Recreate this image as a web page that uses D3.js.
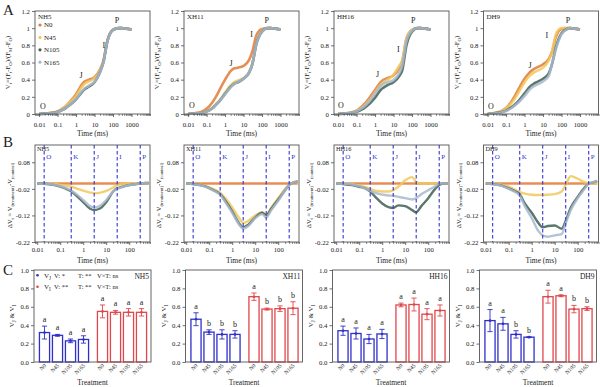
<!DOCTYPE html>
<html>
<head>
<meta charset="utf-8">
<script src="https://cdn.jsdelivr.net/npm/d3@7"></script>
<style>
  body { margin: 0; background: #fff; }
  svg { font-family: "Liberation Serif", "Times New Roman", serif; }
</style>
</head>
<body>
<svg id="fig" width="600" height="387"></svg>
<script>
// ---- data ----
const cultivars = ["NH5", "XH11", "HH16", "DH9"];
const treatments = ["N0", "N45", "N105", "N165"];
const seriesColors = ["#e07b39", "#f0c85a", "#3f5f52", "#a7b9cf"];

// A: relative variable fluorescence Vt
const timeA = [0.01, 0.02, 0.05, 0.1, 0.2, 0.3, 0.5, 1, 2, 3, 5, 10, 20, 30, 50, 100, 200, 300, 500, 1000];
const vtNH5 = [
  [0, 0.005, 0.015, 0.03, 0.07, 0.10, 0.15, 0.23, 0.34, 0.38, 0.40, 0.43, 0.52, 0.62, 0.86, 0.98, 1.0, 1.0, 0.995, 0.985],
  [0, 0.005, 0.014, 0.028, 0.065, 0.095, 0.14, 0.21, 0.31, 0.355, 0.38, 0.415, 0.51, 0.61, 0.86, 0.98, 1.0, 1.0, 0.995, 0.985],
  [0, 0.004, 0.012, 0.022, 0.05, 0.075, 0.11, 0.17, 0.25, 0.29, 0.32, 0.37, 0.49, 0.60, 0.85, 0.98, 1.0, 1.0, 0.995, 0.985],
  [0, 0.004, 0.012, 0.023, 0.052, 0.078, 0.115, 0.175, 0.26, 0.30, 0.33, 0.375, 0.49, 0.60, 0.85, 0.98, 1.0, 1.0, 0.995, 0.985]
];
const vtXH11 = [
  [0, 0.008, 0.025, 0.06, 0.13, 0.19, 0.28, 0.40, 0.50, 0.53, 0.54, 0.56, 0.63, 0.73, 0.92, 0.99, 1.0, 1.0, 0.995, 0.985],
  [0, 0.005, 0.013, 0.03, 0.07, 0.11, 0.16, 0.25, 0.335, 0.37, 0.39, 0.42, 0.49, 0.59, 0.83, 0.97, 1.0, 1.0, 0.995, 0.985],
  [0, 0.005, 0.012, 0.028, 0.065, 0.10, 0.15, 0.235, 0.315, 0.35, 0.37, 0.41, 0.48, 0.58, 0.82, 0.96, 1.0, 1.0, 0.995, 0.985],
  [0, 0.005, 0.012, 0.028, 0.065, 0.10, 0.15, 0.23, 0.31, 0.345, 0.375, 0.41, 0.485, 0.585, 0.82, 0.96, 1.0, 1.0, 0.995, 0.985]
];
const vtHH16 = [
  [0, 0.006, 0.018, 0.04, 0.09, 0.13, 0.19, 0.28, 0.37, 0.40, 0.42, 0.45, 0.53, 0.62, 0.88, 0.98, 1.0, 1.0, 0.995, 0.985],
  [0, 0.005, 0.015, 0.033, 0.075, 0.11, 0.16, 0.25, 0.34, 0.375, 0.40, 0.46, 0.56, 0.63, 0.88, 0.98, 1.0, 1.0, 0.995, 0.985],
  [0, 0.004, 0.012, 0.025, 0.055, 0.08, 0.12, 0.19, 0.28, 0.31, 0.34, 0.37, 0.44, 0.515, 0.80, 0.96, 1.0, 1.0, 0.995, 0.985],
  [0, 0.005, 0.014, 0.03, 0.07, 0.10, 0.15, 0.24, 0.325, 0.355, 0.37, 0.395, 0.475, 0.57, 0.85, 0.97, 1.0, 1.0, 0.995, 0.985]
];
const vtDH9 = [
  [0, 0.008, 0.03, 0.07, 0.15, 0.21, 0.30, 0.41, 0.49, 0.52, 0.545, 0.58, 0.64, 0.72, 0.90, 0.99, 1.0, 1.0, 0.995, 0.985],
  [0, 0.008, 0.028, 0.065, 0.13, 0.18, 0.26, 0.37, 0.45, 0.48, 0.505, 0.54, 0.62, 0.72, 0.93, 1.0, 1.0, 1.0, 0.995, 0.985],
  [0, 0.006, 0.02, 0.04, 0.08, 0.11, 0.16, 0.24, 0.32, 0.35, 0.375, 0.41, 0.47, 0.575, 0.78, 0.94, 0.99, 1.0, 0.995, 0.985],
  [0, 0.005, 0.018, 0.035, 0.07, 0.10, 0.14, 0.21, 0.29, 0.32, 0.345, 0.38, 0.44, 0.58, 0.76, 0.93, 0.99, 1.0, 0.995, 0.985]
];
const vtAll = [vtNH5, vtXH11, vtHH16, vtDH9];

// O, J, I, P annotations [time, Vt] per cultivar
const ojipNames = ["O", "J", "I", "P"];
const ojipMarks = [
  [[0.016, 0.09], [1.84, 0.46], [32, 0.8], [164, 1.1]],
  [[0.016, 0.11], [2.1, 0.59], [27, 0.93], [178, 1.09]],
  [[0.014, 0.1], [1.36, 0.47], [18, 0.76], [116, 1.09]],
  [[0.015, 0.09], [1.96, 0.57], [16, 0.92], [226, 1.09]]
];

// B: ΔVt = V(treatment) - V(control)
const timeB = [0.01, 0.02, 0.05, 0.1, 0.2, 0.3, 0.5, 1, 2, 3, 5, 10, 20, 30, 50, 100, 200, 300, 500, 700];
const dvNH5 = [
  [0, 0, 0, 0, 0, 0, 0, 0, 0, 0, 0, 0, 0, 0, 0, 0, 0, 0, 0, 0],
  [0, 0, -0.002, -0.005, -0.009, -0.012, -0.018, -0.027, -0.034, -0.036, -0.035, -0.028, -0.015, -0.006, -0.002, 0, 0, 0, 0, 0],
  [0, -0.001, -0.005, -0.012, -0.022, -0.03, -0.045, -0.07, -0.095, -0.1, -0.095, -0.07, -0.03, -0.018, -0.012, -0.006, -0.002, 0, 0.002, 0.002],
  [0, -0.001, -0.004, -0.01, -0.019, -0.026, -0.04, -0.062, -0.085, -0.09, -0.085, -0.062, -0.03, -0.02, -0.013, -0.006, -0.002, 0, 0.002, 0.002]
];
const dvXH11 = [
  [0, 0, 0, 0, 0, 0, 0, 0, 0, 0, 0, 0, 0, 0, 0, 0, 0, 0, 0, 0],
  [0, -0.001, -0.006, -0.014, -0.026, -0.035, -0.055, -0.09, -0.13, -0.148, -0.14, -0.12, -0.108, -0.118, -0.09, -0.055, -0.02, -0.005, 0.005, 0.008],
  [0, -0.002, -0.008, -0.017, -0.03, -0.04, -0.065, -0.105, -0.15, -0.165, -0.155, -0.128, -0.11, -0.12, -0.095, -0.06, -0.025, -0.005, 0.005, 0.008],
  [0, -0.002, -0.008, -0.018, -0.032, -0.042, -0.07, -0.11, -0.155, -0.17, -0.16, -0.13, -0.115, -0.128, -0.1, -0.065, -0.025, -0.005, 0.005, 0.008]
];
const dvHH16 = [
  [0, 0, 0, 0, 0, 0, 0, 0, 0, 0, 0, 0, 0, 0, 0, 0, 0, 0, 0, 0],
  [0, 0, -0.003, -0.008, -0.015, -0.02, -0.027, -0.03, -0.03, -0.025, -0.012, 0.012, 0.024, 0.006, 0, 0, 0, 0, 0, 0],
  [0, -0.002, -0.006, -0.012, -0.02, -0.03, -0.05, -0.075, -0.09, -0.092, -0.082, -0.085, -0.1, -0.108, -0.085, -0.055, -0.02, -0.005, 0, 0],
  [0, -0.001, -0.004, -0.01, -0.02, -0.027, -0.035, -0.042, -0.045, -0.046, -0.05, -0.055, -0.06, -0.055, -0.04, -0.025, -0.01, 0, 0, 0]
];
const dvDH9 = [
  [0, 0, 0, 0, 0, 0, 0, 0, 0, 0, 0, 0, 0, 0, 0, 0, 0, 0, 0, 0],
  [0, -0.001, -0.005, -0.012, -0.025, -0.032, -0.038, -0.042, -0.043, -0.043, -0.042, -0.04, -0.03, -0.005, 0.028, 0.018, 0.005, 0, 0, 0],
  [0, -0.002, -0.008, -0.018, -0.03, -0.04, -0.075, -0.11, -0.15, -0.165, -0.16, -0.158, -0.17, -0.14, -0.09, -0.05, -0.015, 0, 0.005, 0.01],
  [0, -0.002, -0.009, -0.02, -0.033, -0.045, -0.085, -0.13, -0.18, -0.195, -0.2, -0.195, -0.19, -0.15, -0.1, -0.055, -0.02, 0, 0.005, 0.01]
];
const dvAll = [dvNH5, dvXH11, dvHH16, dvDH9];
const stepNames = ["O", "K", "J", "I", "P"];
const stepTimes = [0.02, 0.3, 3, 30, 300];

// C: VJ and VI bars (mean, error, letters)
const vjMean = [[0.32, 0.29, 0.23, 0.245], [0.465, 0.325, 0.30, 0.30], [0.34, 0.31, 0.25, 0.305], [0.45, 0.415, 0.30, 0.27]];
const vjErr = [[0.07, 0.01, 0.02, 0.04], [0.07, 0.025, 0.05, 0.04], [0.05, 0.06, 0.05, 0.05], [0.12, 0.07, 0.04, 0.005]];
const vjLetters = [["a", "a", "a", "a"], ["a", "b", "b", "b"], ["a", "a", "a", "a"], ["a", "a", "b", "b"]];
const viMean = [[0.55, 0.54, 0.54, 0.54], [0.71, 0.575, 0.58, 0.585], [0.62, 0.625, 0.52, 0.56], [0.71, 0.72, 0.575, 0.58]];
const viErr = [[0.07, 0.02, 0.04, 0.04], [0.04, 0.01, 0.03, 0.07], [0.02, 0.07, 0.06, 0.06], [0.07, 0.01, 0.04, 0.02]];
const viLetters = [["a", "a", "a", "a"], ["a", "b", "b", "b"], ["a", "a", "a", "a"], ["a", "a", "b", "b"]];
const statsVJ = ["V: *", "T: **", "V×T: ns"];
const statsVI = ["V: **", "T: **", "V×T: ns"];

// tick labels
const timeTicksA = [0.01, 0.1, 1, 10, 100, 1000];
const timeTicksB = [0.01, 0.1, 1, 10, 100];
const vtTicks = [0, 0.2, 0.4, 0.6, 0.8, 1, 1.2];
const dvTicks = [0.08, -0.02, -0.12, -0.22];
const barTicks = [0, 0.2, 0.4, 0.6, 0.8, 1.0];

// ---- layout ----
const fig = d3.select("#fig");
const colA = [35, 184, 334, 483.5], wA = 115;
const colC = [34, 185.5, 332.5, 479.5], wC = 117;
const ink = "#222", blueLine = "#3535d0";
const barBlue = "#3030c8", barRed = "#e0474c";

function styleAxis(sel) {
  sel.attr("font-family", null).attr("font-size", null);
  sel.select(".domain").remove();
  sel.selectAll(".tick line").attr("stroke", "#333").attr("stroke-width", 0.7);
  sel.selectAll(".tick text").attr("fill", ink).style("font-size", "6.8px");
}

// text with subscripts: parts = [[text, isSub], ...]
function subText(sel, parts, fs) {
  let shift = 0;
  parts.forEach(([t, sub]) => {
    const target = sub ? fs * 0.3 : 0;
    sel.append("tspan").attr("dy", target - shift)
      .attr("font-size", sub ? fs * 0.72 : fs).text(t);
    shift = target;
  });
}

function logAxis(g, x, y0, majors, pad) {
  const minor = x.ticks().filter(t => !majors.some(m => Math.abs(Math.log10(t / m)) < 1e-6));
  g.append("g").attr("transform", `translate(0,${y0})`)
    .call(d3.axisBottom(x).tickValues(minor).tickSize(1.8).tickFormat(() => ""))
    .call(styleAxis);
  g.append("g").attr("transform", `translate(0,${y0})`)
    .call(d3.axisBottom(x).tickValues(majors).tickSize(3).tickPadding(pad).tickFormat(d => String(d)))
    .call(styleAxis);
}

function frame(g, x, y, w, h) {
  g.append("rect").attr("x", x).attr("y", y).attr("width", w).attr("height", h)
    .attr("fill", "none").attr("stroke", "#555").attr("stroke-width", 0.9);
}

function panelLetter(t, x, y) {
  fig.append("text").attr("x", x).attr("y", y).attr("font-size", 15).attr("fill", ink).text(t);
}

panelLetter("A", 3, 15);
panelLetter("B", 3, 147);
panelLetter("C", 3, 275);

// ---- A ----
cultivars.forEach((cv, ci) => {
  const left = colA[ci], top = 11, bottom = 114;
  const x = d3.scaleLog().domain([0.006, 10000]).range([left, left + wA]);
  const y = d3.scaleLinear().domain([0, 1.2]).range([bottom, top]);
  const g = fig.append("g");

  const line = d3.line().x(d => x(d[0])).y(d => y(d[1])).curve(d3.curveMonotoneX);
  vtAll[ci].forEach((vals, si) => {
    g.append("path").datum(timeA.map((t, i) => [t, vals[i]]))
      .attr("d", line).attr("fill", "none")
      .attr("stroke", seriesColors[si]).attr("stroke-width", 2.6).attr("stroke-opacity", 0.85);
  });

  logAxis(g, x, bottom, timeTicksA, 5);
  g.append("g").attr("transform", `translate(${left},0)`)
    .call(d3.axisLeft(y).tickValues(vtTicks).tickSize(3).tickPadding(2).tickFormat(String))
    .call(styleAxis);
  frame(g, left, top, wA, bottom - top);

  g.append("text").attr("x", left + 3).attr("y", 18.5).attr("font-size", 7).attr("fill", ink).text(cv);

  ojipMarks[ci].forEach((p, k) => {
    g.append("text").attr("x", x(p[0])).attr("y", y(p[1]) + 3)
      .attr("text-anchor", "middle").attr("font-size", 8).attr("fill", ink).text(ojipNames[k]);
  });

  const yl = g.append("text").attr("fill", ink).attr("text-anchor", "middle")
    .attr("transform", `translate(${left - 25},${(top + bottom) / 2}) rotate(-90)`);
  subText(yl, [["V", 0], ["t", 1], ["=(F", 0], ["t", 1], ["-F", 0], ["O", 1], [")/(F", 0], ["M", 1], ["-F", 0], ["O", 1], [")", 0]], 6.8);

  g.append("text").attr("x", left + wA / 2).attr("y", 136).attr("text-anchor", "middle")
    .attr("font-size", 7.5).attr("fill", ink).text("Time (ms)");

  if (ci === 0) {
    treatments.forEach((tr, si) => {
      const ly = 25 + si * 12.4;
      g.append("circle").attr("cx", left + 5).attr("cy", ly).attr("r", 1.6).attr("fill", seriesColors[si]);
      g.append("text").attr("x", left + 9).attr("y", ly + 2.4).attr("font-size", 7).attr("fill", ink).text(tr);
    });
  }
});

// ---- B ----
cultivars.forEach((cv, ci) => {
  const left = colA[ci], top = 145, bottom = 242;
  const x = d3.scaleLog().domain([0.008, 800]).range([left, left + wA]);
  const y = d3.scaleLinear().domain([-0.22, 0.145]).range([bottom, top]);
  const g = fig.append("g");

  const line = d3.line().x(d => x(d[0])).y(d => y(d[1])).curve(d3.curveMonotoneX);
  dvAll[ci].forEach((vals, si) => {
    g.append("path").datum(timeB.map((t, i) => [t, vals[i]]))
      .attr("d", line).attr("fill", "none")
      .attr("stroke", seriesColors[si]).attr("stroke-width", 2.4).attr("stroke-opacity", 0.85);
  });

  stepTimes.forEach((t, k) => {
    g.append("line").attr("x1", x(t)).attr("x2", x(t)).attr("y1", top).attr("y2", bottom)
      .attr("stroke", blueLine).attr("stroke-width", 1.1).attr("stroke-dasharray", "3.5,2.5");
    g.append("text").attr("x", x(t) + 2).attr("y", 158.5).attr("font-size", 7)
      .attr("fill", blueLine).text(stepNames[k]);
  });

  logAxis(g, x, bottom, timeTicksB, 2);
  g.append("g").attr("transform", `translate(${left},0)`)
    .call(d3.axisLeft(y).tickValues(dvTicks).tickSize(3).tickPadding(2).tickFormat(String))
    .call(styleAxis);
  frame(g, left, top, wA, bottom - top);

  g.append("text").attr("x", left + 2).attr("y", 150.5).attr("font-size", 6.3).attr("fill", ink).text(cv);

  const yl = g.append("text").attr("fill", ink).attr("text-anchor", "middle")
    .attr("transform", `translate(${left - 23},${(top + bottom) / 2 + 2}) rotate(-90)`);
  subText(yl, [["ΔV", 0], ["t", 1], [" = V", 0], ["(treatment)", 1], ["-V", 0], ["(control)", 1]], 6.5);

  g.append("text").attr("x", left + wA / 2).attr("y", 262.5).attr("text-anchor", "middle")
    .attr("font-size", 7.5).attr("fill", ink).text("Time (ms)");
});

// ---- C ----
cultivars.forEach((cv, ci) => {
  const left = colC[ci], top = 270, bottom = 362;
  const y = d3.scaleLinear().domain([0, 1]).range([bottom, top]);
  const xJ = d3.scaleBand().domain(treatments).range([left + 4, left + 56]).paddingInner(0.22).paddingOuter(0.11);
  const xI = d3.scaleBand().domain(treatments).range([left + 62, left + 114]).paddingInner(0.22).paddingOuter(0.11);
  const g = fig.append("g");

  const groups = [
    { x: xJ, mean: vjMean[ci], err: vjErr[ci], letters: vjLetters[ci], color: barBlue },
    { x: xI, mean: viMean[ci], err: viErr[ci], letters: viLetters[ci], color: barRed }
  ];
  groups.forEach(gr => {
    const bw = gr.x.bandwidth();
    treatments.forEach((tr, i) => {
      const cx = gr.x(tr) + bw / 2, m = gr.mean[i], e = gr.err[i];
      g.append("rect").attr("x", gr.x(tr)).attr("y", y(m)).attr("width", bw).attr("height", bottom - y(m))
        .attr("fill", "#fff").attr("stroke", gr.color).attr("stroke-width", 1.3);
      g.append("line").attr("x1", cx).attr("x2", cx).attr("y1", y(m - e)).attr("y2", y(m + e))
        .attr("stroke", gr.color).attr("stroke-width", 0.9);
      [m - e, m + e].forEach(v => g.append("line").attr("x1", cx - 2.6).attr("x2", cx + 2.6)
        .attr("y1", y(v)).attr("y2", y(v)).attr("stroke", gr.color).attr("stroke-width", 0.9));
      g.append("circle").attr("cx", cx).attr("cy", y(m)).attr("r", 1.3).attr("fill", gr.color);
      g.append("text").attr("x", cx).attr("y", y(m + e) - 4).attr("text-anchor", "middle")
        .attr("font-size", 8).attr("fill", ink).text(gr.letters[i]);
      g.append("text").attr("text-anchor", "end").attr("font-size", 5.6).attr("fill", ink)
        .attr("transform", `translate(${cx + 2},${bottom + 4}) rotate(-45)`).text(tr);
    });
  });

  g.append("g").attr("transform", `translate(${left},0)`)
    .call(d3.axisLeft(y).tickValues(barTicks).tickSize(3).tickPadding(2).tickFormat(d3.format(".1f")))
    .call(styleAxis);
  frame(g, left, top, wC, bottom - top);

  g.append("text").attr("x", left + wC - 2).attr("y", 278.5).attr("text-anchor", "end")
    .attr("font-size", 7.5).attr("fill", ink).text(cv);

  const yl = g.append("text").attr("fill", ink).attr("text-anchor", "middle")
    .attr("transform", `translate(${left - 20},${(top + bottom) / 2}) rotate(-90)`);
  subText(yl, [["V", 0], ["J", 1], [" & V", 0], ["I", 1]], 7);

  g.append("text").attr("x", left + wC / 2).attr("y", 385).attr("text-anchor", "middle")
    .attr("font-size", 7.5).attr("fill", ink).text("Treatment");

  if (ci === 0) {
    [[barBlue, "J", statsVJ], [barRed, "I", statsVI]].forEach(([col, sub, st], r) => {
      const ly = 277.5 + r * 11.5;
      g.append("circle").attr("cx", left + 3.5).attr("cy", ly - 2.2).attr("r", 1.3).attr("fill", col);
      const t = g.append("text").attr("x", left + 10).attr("y", ly).attr("fill", ink);
      subText(t, [["V", 0], [sub, 1]], 7);
      [20, 44, 63].forEach((dx, k) => g.append("text").attr("x", left + dx).attr("y", ly)
        .attr("font-size", 6.5).attr("fill", ink).text(st[k]));
    });
  }
});
</script>
</body>
</html>
